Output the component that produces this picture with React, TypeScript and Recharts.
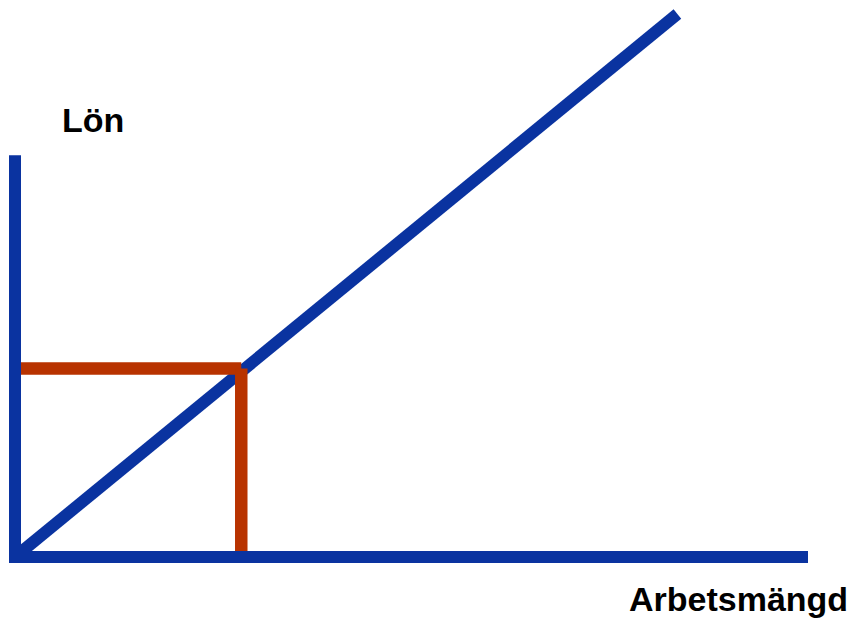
import { LineChart, Line, XAxis, YAxis } from "recharts";

// Arbetsmängd (x) and Lön (y) in the same made-up units as the picture
const supplyX = [0, 10.1];
const supplyY = [0, 10];

const pointX = 3.45;
const pointY = 3.47;

const xAxisEnd = 12;
const yAxisEnd = 7.29;

const BLUE = "#0a33a0";
const ORANGE = "#b83300";

const supplyData = supplyX.map((x, i) => ({ x, y: supplyY[i] }));
const wageGuide = [
  { x: 0, y: pointY },
  { x: pointX, y: pointY },
];
const workGuide = [
  { x: pointX, y: pointY },
  { x: pointX, y: 0 },
];
const xAxisData = [
  { x: 0, y: 0 },
  { x: xAxisEnd, y: 0 },
];
const yAxisData = [
  { x: 0, y: 0 },
  { x: 0, y: yAxisEnd },
];

const labelStyle = {
  fontFamily: "'Liberation Sans', Arial, sans-serif",
  fontWeight: 700,
  fontSize: 34,
};

export default function App() {
  return (
    <div style={{ position: "absolute", left: 0, top: 0, background: "#fff" }}>
      <LineChart
        width={855}
        height={621}
        margin={{ top: 14, right: 53, left: 15, bottom: 64 }}
      >
        <XAxis type="number" dataKey="x" domain={[0, xAxisEnd]} hide />
        <YAxis type="number" dataKey="y" domain={[0, 10]} hide />
        <Line
          data={supplyData}
          dataKey="y"
          type="linear"
          stroke={BLUE}
          strokeWidth={12}
          dot={false}
          activeDot={false}
          isAnimationActive={false}
        />
        <Line
          data={wageGuide}
          dataKey="y"
          type="linear"
          stroke={ORANGE}
          strokeWidth={12.5}
          dot={false}
          activeDot={false}
          isAnimationActive={false}
        />
        <Line
          data={workGuide}
          dataKey="y"
          type="linear"
          stroke={ORANGE}
          strokeWidth={12.5}
          dot={false}
          activeDot={false}
          isAnimationActive={false}
        />
        <Line
          data={xAxisData}
          dataKey="y"
          type="linear"
          stroke={BLUE}
          strokeWidth={12}
          strokeLinecap="square"
          dot={false}
          activeDot={false}
          isAnimationActive={false}
        />
        <Line
          data={yAxisData}
          dataKey="y"
          type="linear"
          stroke={BLUE}
          strokeWidth={12}
          strokeLinecap="square"
          dot={false}
          activeDot={false}
          isAnimationActive={false}
        />
        <text x={62} y={132} style={labelStyle} fill="#000">
          Lön
        </text>
        <text x={629} y={611} style={labelStyle} fill="#000">
          Arbetsmängd
        </text>
      </LineChart>
    </div>
  );
}
